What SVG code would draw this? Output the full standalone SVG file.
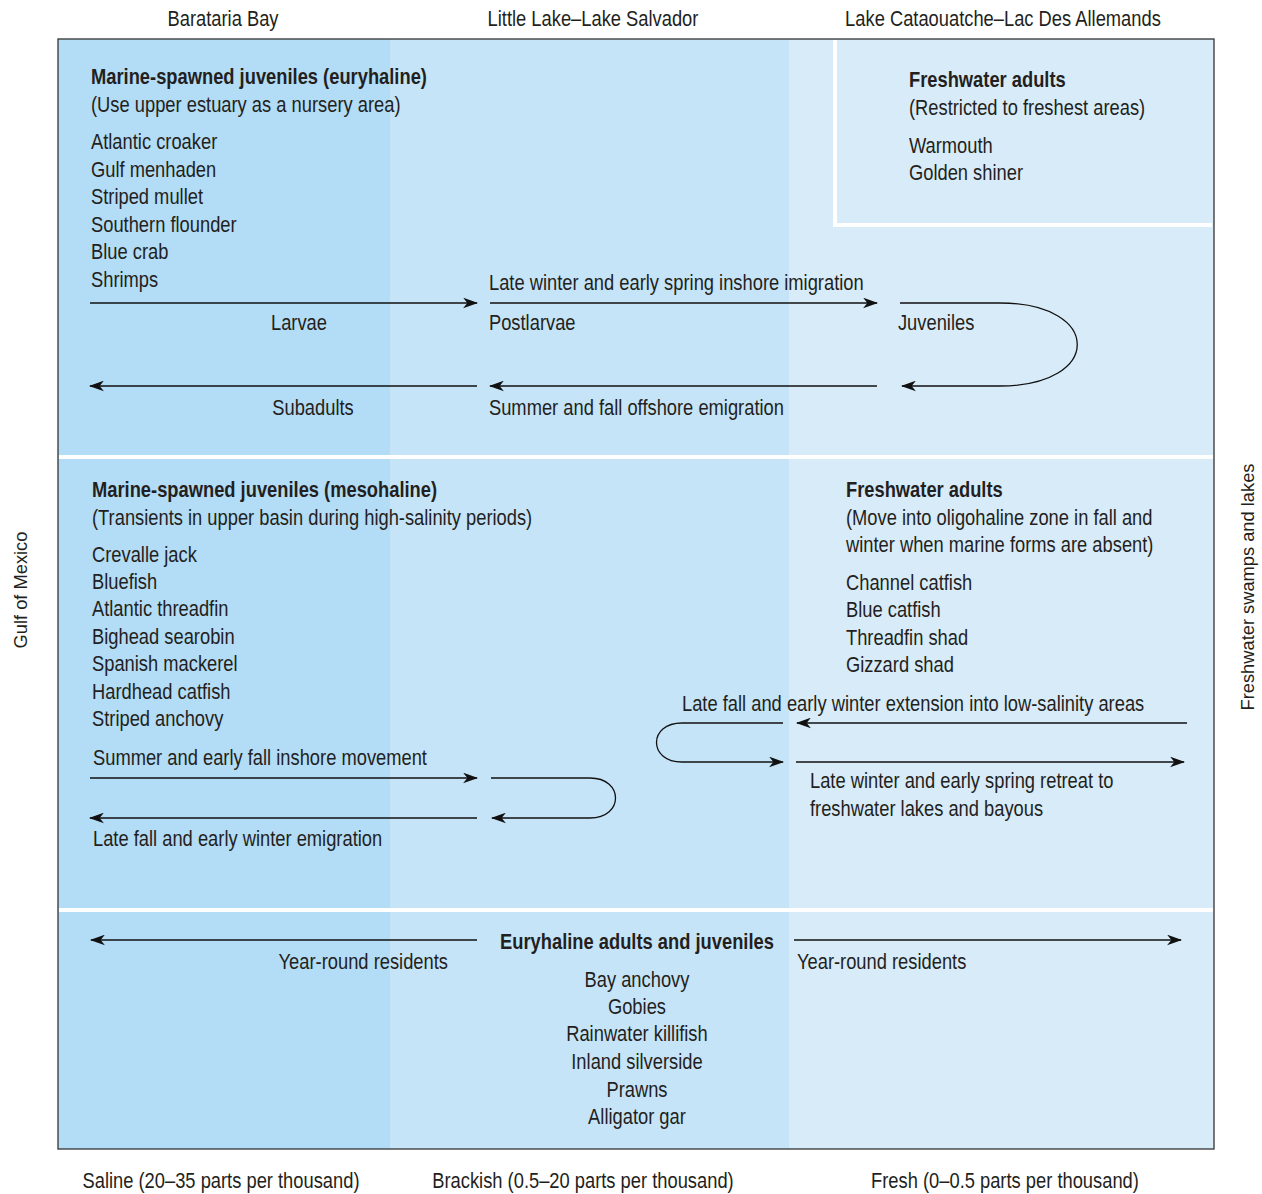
<svg xmlns="http://www.w3.org/2000/svg" width="1262" height="1194" viewBox="0 0 1262 1194">
<defs>
<style>
text{font-family:"Liberation Sans",Arial,sans-serif;font-size:22px;fill:#231f20}
.b{font-weight:bold}
.m{text-anchor:middle}
.e{text-anchor:end}
.side{font-size:18.3px}
.ln{stroke:#111;stroke-width:1.3;fill:none}
.sep{stroke:#fff;stroke-width:4;fill:none}
</style>
<marker id="ah" viewBox="0 0 14 10" refX="13" refY="5" markerWidth="15" markerHeight="11" markerUnits="userSpaceOnUse" orient="auto">
<path d="M0,0 L14,5 L0,10 L4,5 z" fill="#111"/>
</marker>
</defs>
<rect width="1262" height="1194" fill="#fff"/>
<g id="background">
<rect x="58" y="39" width="332" height="1110" fill="#b3dcf6"/>
<rect x="390" y="39" width="399" height="1110" fill="#c6e4f8"/>
<rect x="789" y="39" width="425" height="1110" fill="#d8ebf9"/>
<line class="sep" x1="59" y1="457" x2="1213" y2="457"/>
<line class="sep" x1="59" y1="910" x2="1213" y2="910"/>
<path class="sep" d="M835,40 V225 H1212"/>
<rect x="58" y="39" width="1156" height="1110" fill="none" stroke="#333" stroke-width="1.3"/>
</g>
<g id="axis-labels">
<g transform="translate(0,1) scale(0.8333 1)">
<text class="m" x="267.6" y="25">Barataria Bay</text>
<text class="m" x="711.6" y="25">Little Lake–Lake Salvador</text>
<text class="m" x="1203.6" y="25">Lake Cataouatche–Lac Des Allemands</text>
<text class="m" x="265.2" y="1187">Saline (20–35 parts per thousand)</text>
<text class="m" x="699.6" y="1187">Brackish (0.5–20 parts per thousand)</text>
<text class="m" x="1206" y="1187">Fresh (0–0.5 parts per thousand)</text>
</g>
<text class="side m" transform="translate(27,590) rotate(-90)">Gulf of Mexico</text>
<text class="side m" transform="translate(1254,587) rotate(-90)">Freshwater swamps and lakes</text>
</g>
<g id="node-euryhaline-juveniles" transform="translate(0,1) scale(0.8333 1)">
<text class="b" x="109.2" y="83">Marine-spawned juveniles (euryhaline)</text>
<text x="109.2" y="111">(Use upper estuary as a nursery area)</text>
<text x="109.2" y="148">Atlantic croaker</text>
<text x="109.2" y="176">Gulf menhaden</text>
<text x="109.2" y="203">Striped mullet</text>
<text x="109.2" y="231">Southern flounder</text>
<text x="109.2" y="258">Blue crab</text>
<text x="109.2" y="286">Shrimps</text>
</g>
<g id="node-freshwater-adults-restricted" transform="translate(0,1) scale(0.8333 1)">
<text class="b" x="1090.8" y="86">Freshwater adults</text>
<text x="1090.8" y="114">(Restricted to freshest areas)</text>
<text x="1090.8" y="152">Warmouth</text>
<text x="1090.8" y="179">Golden shiner</text>
</g>
<g id="node-mesohaline-juveniles" transform="translate(0,1) scale(0.8333 1)">
<text class="b" x="110.4" y="496">Marine-spawned juveniles (mesohaline)</text>
<text x="110.4" y="524">(Transients in upper basin during high-salinity periods)</text>
<text x="110.4" y="561">Crevalle jack</text>
<text x="110.4" y="588">Bluefish</text>
<text x="110.4" y="615">Atlantic threadfin</text>
<text x="110.4" y="643">Bighead searobin</text>
<text x="110.4" y="670">Spanish mackerel</text>
<text x="110.4" y="698">Hardhead catfish</text>
<text x="110.4" y="725">Striped anchovy</text>
</g>
<g id="node-freshwater-adults-oligohaline" transform="translate(0,1) scale(0.8333 1)">
<text class="b" x="1015.2" y="496">Freshwater adults</text>
<text x="1015.2" y="524">(Move into oligohaline zone in fall and</text>
<text x="1015.2" y="551">winter when marine forms are absent)</text>
<text x="1015.2" y="589">Channel catfish</text>
<text x="1015.2" y="616">Blue catfish</text>
<text x="1015.2" y="644">Threadfin shad</text>
<text x="1015.2" y="671">Gizzard shad</text>
</g>
<g id="node-euryhaline-adults" transform="translate(0,1) scale(0.8333 1)">
<text class="b m" x="764.4" y="948">Euryhaline adults and juveniles</text>
<text class="m" x="764.4" y="986">Bay anchovy</text>
<text class="m" x="764.4" y="1013">Gobies</text>
<text class="m" x="764.4" y="1040">Rainwater killifish</text>
<text class="m" x="764.4" y="1068">Inland silverside</text>
<text class="m" x="764.4" y="1096">Prawns</text>
<text class="m" x="764.4" y="1123">Alligator gar</text>
</g>
<g id="connectors">
<line class="ln" x1="90" y1="303" x2="477" y2="303" marker-end="url(#ah)"/>
<line class="ln" x1="490" y1="303" x2="877" y2="303" marker-end="url(#ah)"/>
<path class="ln" d="M900,303 H1000 C1103,303 1103,386 1000,386 H902" marker-end="url(#ah)"/>
<line class="ln" x1="877" y1="386" x2="490" y2="386" marker-end="url(#ah)"/>
<line class="ln" x1="477" y1="386" x2="90" y2="386" marker-end="url(#ah)"/>
<line class="ln" x1="90" y1="778" x2="477" y2="778" marker-end="url(#ah)"/>
<path class="ln" d="M491,778 H590 C624,778 624,818 590,818 H492" marker-end="url(#ah)"/>
<line class="ln" x1="477" y1="818" x2="90" y2="818" marker-end="url(#ah)"/>
<line class="ln" x1="1187" y1="723" x2="797" y2="723" marker-end="url(#ah)"/>
<path class="ln" d="M783,723 H682 C648,723 648,762 682,762 H783" marker-end="url(#ah)"/>
<line class="ln" x1="796" y1="762" x2="1184" y2="762" marker-end="url(#ah)"/>
<line class="ln" x1="477" y1="940" x2="91" y2="940" marker-end="url(#ah)"/>
<line class="ln" x1="794" y1="940" x2="1181" y2="940" marker-end="url(#ah)"/>
</g>
<g id="connector-labels" transform="translate(0,1) scale(0.8333 1)">
<text x="586.8" y="289">Late winter and early spring inshore imigration</text>
<text class="m" x="358.8" y="329">Larvae</text>
<text x="586.8" y="329">Postlarvae</text>
<text x="1077.6" y="329">Juveniles</text>
<text class="m" x="375.6" y="414">Subadults</text>
<text x="586.8" y="414">Summer and fall offshore emigration</text>
<text x="111.6" y="764">Summer and early fall inshore movement</text>
<text x="111.6" y="845">Late fall and early winter emigration</text>
<text x="818.4" y="710">Late fall and early winter extension into low-salinity areas</text>
<text x="972" y="787">Late winter and early spring retreat to</text>
<text x="972" y="815">freshwater lakes and bayous</text>
<text class="e" x="537.6" y="968">Year-round residents</text>
<text x="956.4" y="968">Year-round residents</text>
</g>
</svg>
